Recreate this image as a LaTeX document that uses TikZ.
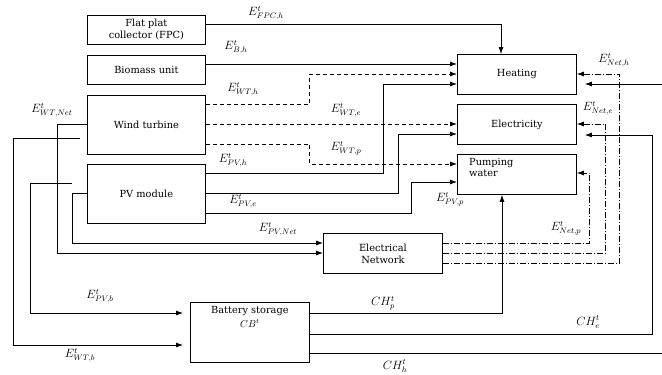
\documentclass[tikz,border=0pt]{standalone}
\usepackage{fontspec}
\setmainfont{DejaVu Serif}
\usetikzlibrary{arrows.meta,calc}
\begin{document}
\begin{tikzpicture}[x=1pt,y=-1pt,
  box/.style={draw, line width=0.8pt, anchor=north west, inner sep=0pt, font=\fontsize{9.8}{12}\selectfont, align=center},
  ln/.style={line width=0.8pt},
  arr/.style={ln, -{Latex[length=7pt,width=5pt]}},
  dsh/.style={dash pattern=on 4pt off 3pt},
  dd/.style={dash pattern=on 6pt off 2pt on 1pt off 2pt},
  lab/.style={font=\fontsize{12}{14}\selectfont, inner sep=0pt}]
\useasboundingbox (0,0) rectangle (662,375);
% boxes
\node[box, minimum width=118pt, minimum height=29pt] (fpc) at (87,15) {Flat plat\\collector (FPC)};
\node[box, minimum width=118pt, minimum height=29pt] (bio) at (87,55) {Biomass unit};
\node[box, minimum width=118pt, minimum height=59pt] (wt) at (87,95) {Wind turbine};
\node[box, minimum width=118pt, minimum height=59pt] (pv) at (87,164) {PV module};
\node[box, minimum width=119pt, minimum height=40pt] (heat) at (457,54) {Heating};
\node[box, minimum width=119pt, minimum height=40pt] (elec) at (457,104) {Electricity};
\node[box, minimum width=119pt, minimum height=40pt,
  label={[anchor=north west, align=left, inner sep=0pt, xshift=12pt, yshift=-4pt, font=\fontsize{9.8}{11.5}\selectfont]north west:Pumping\\water}] (pump) at (457,154) {};
\node[box, minimum width=119pt, minimum height=40pt] (net) at (323,233) {Electrical\\Network};
\node[box, minimum width=119pt, minimum height=60pt,
  label={[anchor=north, align=center, inner sep=0pt, yshift=-4pt, font=\fontsize{9.8}{14}\selectfont]north:Battery storage\\$CB^{t}$}] (bat) at (190,302) {};
% connectors to heating / electricity / pumping
\draw[arr] ($(fpc.north east)+(0,9)$) -| ($(heat.north west)+(44,0)$);
\draw[arr] ($(bio.north east)+(0,9)$) -- ($(heat.north west)+(0,10)$);
\draw[arr,dsh] ($(wt.north east)+(0,9)$) -- ++(104,0) |- ($(heat.north west)+(0,20)$);
\draw[arr,dsh] ($(wt.north east)+(0,29)$) -- ($(elec.north west)+(0,20)$);
\draw[arr,dsh] ($(wt.north east)+(0,49)$) -- ++(104,0) |- ($(pump.north west)+(0,10)$);
\draw[arr] ($(pv.north east)+(0,9)$) -- ++(178,0) |- ($(heat.north west)+(0,30)$);
\draw[arr] ($(pv.north east)+(0,29)$) -- ++(193,0) |- ($(elec.north west)+(0,30)$);
\draw[arr] ($(pv.north east)+(0,49)$) -- ++(206,0) |- ($(pump.north west)+(0,28)$);
% to network
\draw[arr] ($(pv.north west)+(0,29)$) -- ++(-15,0) |- ($(net.north west)+(0,10)$);
\draw[arr] ($(wt.north west)+(0,29)$) -- ++(-30,0) |- ($(net.north west)+(0,20)$);
% to battery
\coordinate (pvb) at ($(pv.north west)+(-15,19)$);
\coordinate (wtb) at ($(wt.north west)+(-7,43)$);
\draw[arr, shorten >=7pt] (pvb) -- ++(-42,0) |- ($(bat.north west)+(0,11)$);
\draw[arr, shorten >=7pt] (wtb) -- ++(-67,0) |- ($(bat.north west)+(0,43)$);
% from network
\draw[arr,dd] ($(net.north east)+(0,10)$) -- ++(147,0) |- ($(pump.north east)+(0,19)$);
\draw[arr,dd] ($(net.north east)+(0,20)$) -- ++(163,0) |- ($(elec.north east)+(0,20)$);
\draw[arr,dd] ($(net.north east)+(0,30)$) -- ++(177,0) |- ($(heat.north east)+(0,20)$);
% from battery
\draw[arr] ($(bat.north east)+(0,11)$) -| ($(pump.south west)+(45,0)$);
\draw[arr, shorten >=8pt] ($(bat.north east)+(0,32)$) -- ++(343,0) |- ($(elec.north east)+(0,31)$);
\coordinate (edgeA) at (662,353);
\coordinate (edgeB) at (662,84);
\draw[ln] ($(bat.north east)+(0,51)$) -- (edgeA);
\draw[arr, shorten >=8pt] (edgeB) -- ($(heat.north east)+(0,30)$);
% labels
\node[lab] (lfpc) at (266,13) {$E^{t}_{FPC,h}$};
\node[lab] (lbh) at (236,47) {$E^{t}_{B,h}$};
\node[lab] (lwth) at (243,89) {$E^{t}_{WT,h}$};
\node[lab] (lwte) at (346,110) {$E^{t}_{WT,e}$};
\node[lab] (lwtp) at (346,148) {$E^{t}_{WT,p}$};
\node[lab] (lpvh) at (233,160) {$E^{t}_{PV,h}$};
\node[lab] (lpve) at (243,201) {$E^{t}_{PV,e}$};
\node[lab] (lpvp) at (450,199) {$E^{t}_{PV,p}$};
\node[lab] (lpvnet) at (278,229) {$E^{t}_{PV,Net}$};
\node[lab] (lwtnet) at (52,110) {$E^{t}_{WT,Net}$};
\node[lab] (lpvb) at (100,296) {$E^{t}_{PV,b}$};
\node[lab] (lwtb) at (80,355) {$E^{t}_{WT,b}$};
\node[lab] (lnetp) at (566,228) {$E^{t}_{Net,p}$};
\node[lab] (lneth) at (614,60) {$E^{t}_{Net,h}$};
\node[lab] (lnete) at (598,108) {$E^{t}_{Net,e}$};
\node[lab] (lchp) at (383,303) {$CH^{t}_{p}$};
\node[lab] (lche) at (588,322) {$CH^{t}_{e}$};
\node[lab] (lchh) at (395,366) {$CH^{t}_{h}$};
\end{tikzpicture}
\end{document}
